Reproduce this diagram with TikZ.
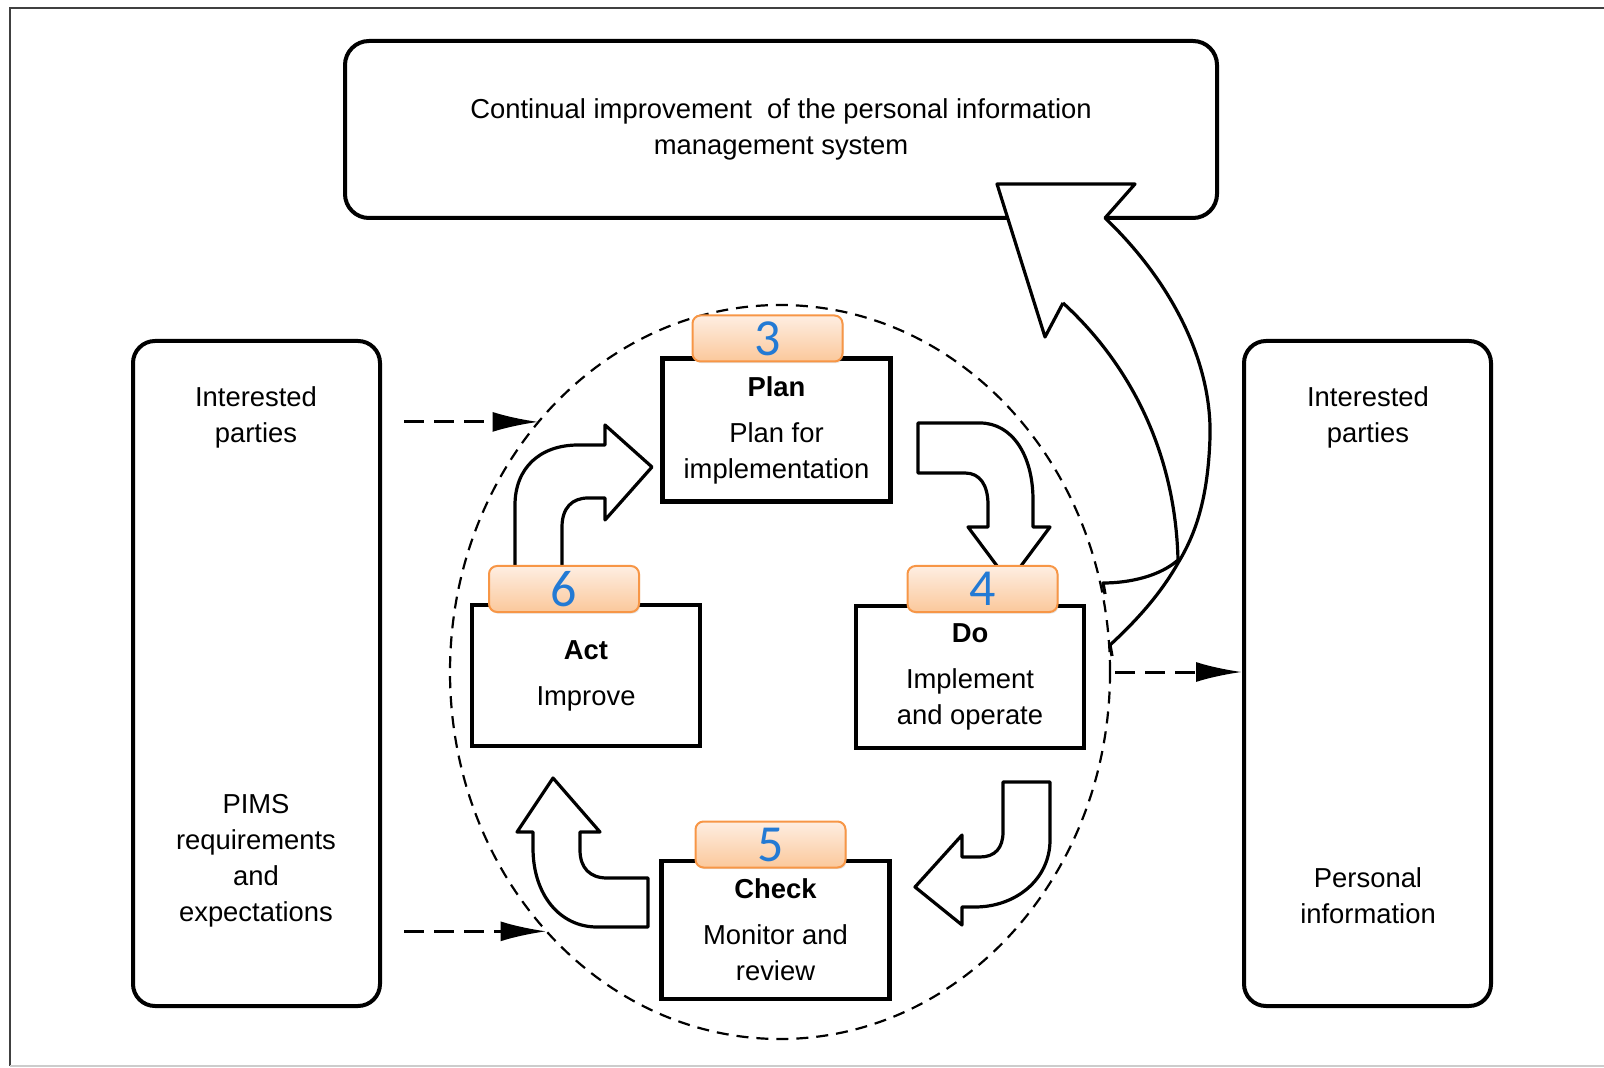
\documentclass[tikz,border=0pt]{standalone}
\usepackage{fontspec}
\setmainfont{Liberation Sans}
\newfontfamily\numfont{Carlito}
\usetikzlibrary{arrows.meta,shapes.geometric,shadows,calc}

\definecolor{tagline}{RGB}{247,150,70}
\definecolor{tagtop}{RGB}{254,238,226}
\definecolor{tagbottom}{RGB}{251,200,155}
\definecolor{tagtext}{RGB}{35,122,212}

\tikzset{
  outerbox/.style={draw, line width=2pt, rounded corners=11pt, align=center, inner sep=0pt},
  phase/.style={draw, line width=2.2pt, fill=white, minimum width=114pt, align=center, inner sep=0pt},
  tag/.style={draw=tagline, line width=1pt, rounded corners=4pt, top color=tagtop, bottom color=tagbottom,
    minimum width=75pt, minimum height=23pt, inner sep=0pt, text=tagtext,
    font=\numfont\fontsize{26}{26}\selectfont,
    drop shadow={opacity=0.2, shadow xshift=0.6pt, shadow yshift=-0.8pt}},
  turn/.style={draw, line width=1.6pt, fill=white, line join=round},
  feed/.style={line width=1.5pt, dash pattern=on 10pt off 5pt, -{Latex[length=23pt,width=10pt]}}
}

\begin{document}
\begin{tikzpicture}[x=0.5pt, y=-0.5pt, font=\fontsize{13.7}{18}\selectfont]
\useasboundingbox (0,0) rectangle (1604,1068);

% frame
\draw[line width=1pt, black!75] (1604,8) -- (10,8) -- (10,1066);
\draw[line width=0.6pt, black!20] (10,1066) -- (1604,1066);

\node[outerbox, minimum width=436pt, minimum height=88.5pt, rounded corners=12pt] (cont) at (781,129.5)
  {Continual improvement~ of the personal information\\management system};

\node[outerbox, minimum width=123.5pt, minimum height=332.5pt] (left) at (256.5,673.5) {};
\node[outerbox, minimum width=123.5pt, minimum height=332.5pt] (right) at (1367.5,673.5) {};
\node[align=center] (lparties) at (256,417) {Interested\\parties};
\node[align=center] (lreq) at (256,861) {PIMS\\requirements\\and\\expectations};
\node[align=center] (rparties) at (1368,417) {Interested\\parties};
\node[align=center] (rinfo) at (1368,895.5) {Personal\\information};

% arrow up to continual improvement
\path[fill=white] (1063,303) -- (1045,337) -- (997,184) -- (1135,184) -- (1105,218)
  .. controls (1170,280) and (1212,360) .. (1210,437)
  .. controls (1208,500) and (1195,535) .. (1178,563)
  .. controls (1160,595) and (1135,622) .. (1110,645) -- (1103,583)
  .. controls (1130,583) and (1160,576) .. (1178,560)
  .. controls (1175,440) and (1120,355) .. (1063,303) -- cycle;
\draw[line width=1.6pt, line join=round] (1063,303) -- (1045,337) -- (997,184) -- (1135,184) -- (1105,218)
  .. controls (1170,280) and (1212,360) .. (1210,437)
  .. controls (1208,500) and (1195,535) .. (1178,563)
  .. controls (1160,595) and (1135,622) .. (1110,645) -- (1112,656);
\draw[line width=1.6pt, line join=round] (1063,303) .. controls (1120,355) and (1175,440) .. (1178,560)
  .. controls (1160,576) and (1130,583) .. (1103,583) -- (1105,594);

% dashed cycle
\node[ellipse, draw, line width=1.1pt, dash pattern=on 6pt off 4pt, minimum width=330pt, minimum height=367pt,
  inner sep=0pt, outer sep=0pt] (pdca) at (780,672) {};

\draw[feed] ($(pdca.134.6 -| left.east)+(11pt,0)$) -- (pdca.134.6);
\draw[feed] ($(pdca.228.3 -| left.east)+(11pt,0)$) -- (pdca.228.3);
\draw[feed] ($(pdca.-0.6)+(2.5pt,0)$) -- (pdca.-0.6 -| right.west);

% turning arrows
\draw[turn] (515,575) -- (515,505) .. controls (515,468) and (540,445) .. (578,445) -- (605,445) -- (605,425)
  -- (652,467) -- (605,520) -- (605,498) -- (588,498) .. controls (572,498) and (562,508) .. (562,527) -- (562,575) -- cycle;
\draw[turn] (918,423) -- (980,423) .. controls (1012,423) and (1033,455) .. (1033,500) -- (1033,527) -- (1050,527)
  -- (1009,582) -- (968,527) -- (988,527) -- (988,505) .. controls (988,485) and (980,473) .. (965,473) -- (918,473) -- cycle;
\draw[turn] (1003,782) -- (1050,782) -- (1050,840) .. controls (1050,880) and (1015,907) .. (975,907) -- (962,907)
  -- (962,925) -- (915,887) -- (962,835) -- (962,857) -- (980,857) .. controls (995,857) and (1003,848) .. (1003,832) -- cycle;
\draw[turn] (553,778) -- (600,832) -- (580,832) -- (580,850) .. controls (580,868) and (590,878) .. (607,878) -- (648,878)
  -- (648,927) -- (597,927) .. controls (560,927) and (533,895) .. (533,848) -- (533,832) -- (517,832) -- cycle;

\foreach \n/\x/\y/\h/\t in {plan/776.5/430/71.5/{\textbf{Plan}\\[5pt]Plan for\\implementation},
    do/970/677/71/{\textbf{Do}\\[5pt]Implement\\and operate},
    act/586/675.5/70.5/{\textbf{Act}\\[5pt]Improve},
    check/775.5/930/69/{\textbf{Check}\\[5pt]Monitor and\\review}}
{
  \node[phase, minimum height=\h*1pt] (\n) at (\x,\y) {\t};
}

\foreach \n/\x/\y in {3/767.5/338.5, 4/982.5/589, 6/564/589, 5/770.5/844.5}
  \node[tag] (tag\n) at (\x,\y) {\n};
\end{tikzpicture}
\end{document}
